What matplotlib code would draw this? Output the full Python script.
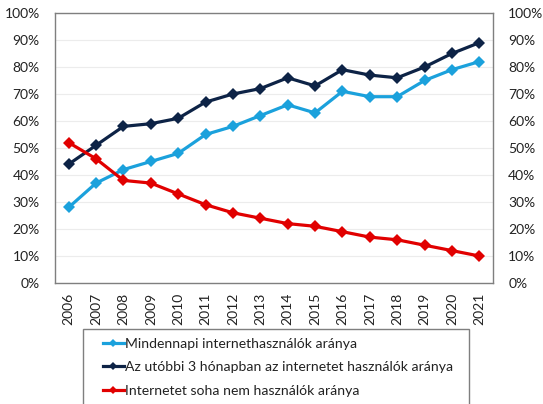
import matplotlib
matplotlib.use("Agg")
import matplotlib.pyplot as plt
from matplotlib.patches import Rectangle
from matplotlib.ticker import PercentFormatter

plt.rcParams['font.family'] = ['Lato', 'DejaVu Sans']

years = ["2006", "2007", "2008", "2009", "2010", "2011", "2012", "2013",
         "2014", "2015", "2016", "2017", "2018", "2019", "2020", "2021"]
daily = [28, 37, 42, 45, 48, 55, 58, 62, 66, 63, 71, 69, 69, 75, 79, 82]
last3m = [44, 51, 58, 59, 61, 67, 70, 72, 76, 73, 79, 77, 76, 80, 85, 89]
never = [52, 46, 38, 37, 33, 29, 26, 24, 22, 21, 19, 17, 16, 14, 12, 10]
labels = ["Mindennapi internethasználók aránya",
          "Az utóbbi 3 hónapban az internetet használók aránya",
          "Internetet soha nem használók aránya"]
colors = ["#1BA1DC", "#0D2346", "#E10000"]
yticks = [0, 10, 20, 30, 40, 50, 60, 70, 80, 90, 100]

W, H = 543, 404
fig = plt.figure(figsize=(W / 100, H / 100), dpi=100)
L, R, T, B = 55, 493, 13, 283
ax = fig.add_axes([L / W, 1 - B / H, (R - L) / W, (B - T) / H])

x = list(range(len(years)))
handles = []
for vals, c, lab in zip([daily, last3m, never], colors, labels):
    h, = ax.plot(x, vals, color=c, lw=2.3, marker='D', ms=6.5,
                 markeredgewidth=0, label=lab, zorder=3)
    handles.append(h)

ax.set_xlim(-0.5, len(years) - 0.5)
ax.set_ylim(0, 100)
ax.set_yticks(yticks)
ax.yaxis.set_major_formatter(PercentFormatter(decimals=0))
ax.set_xticks(x)
ax.set_xticklabels(years, rotation=90)
ax.grid(axis='y', color='#ECECEC', lw=0.8, zorder=0)
ax.tick_params(axis='y', length=0, pad=11, labelsize=10, colors='#222222')
ax.tick_params(axis='x', length=0, pad=7, labelsize=10, colors='#222222')
for s in ax.spines.values():
    s.set_color('#7F7F7F')
    s.set_linewidth(1.0)

ax2 = ax.twinx()
ax2.set_ylim(0, 100)
ax2.set_yticks(yticks)
ax2.yaxis.set_major_formatter(PercentFormatter(decimals=0))
ax2.tick_params(axis='y', length=0, pad=11, labelsize=10, colors='#222222')
for s in ax2.spines.values():
    s.set_visible(False)

# legend box
lx0, lx1, ly0 = 83, 469, 329
fig.patches.append(Rectangle((lx0 / W, -0.1), (lx1 - lx0) / W, 1 - ly0 / H + 0.1,
                             transform=fig.transFigure, facecolor='white',
                             edgecolor='#7F7F7F', lw=1.0, figure=fig))
leg = fig.legend(handles=handles, labels=labels, loc='upper left',
                 bbox_to_anchor=(97 / W, 1 - 332 / H), frameon=False,
                 fontsize=10.1, handlelength=1.5, handletextpad=0.08,
                 labelspacing=0.82, markerscale=0.6, borderaxespad=0,
                 labelcolor='#222222')

fig.savefig("out.png", dpi=100)
